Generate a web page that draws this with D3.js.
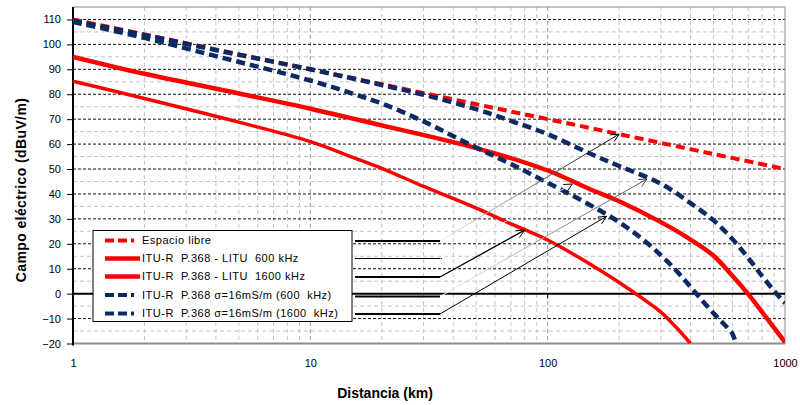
<!DOCTYPE html>
<html><head><meta charset="utf-8">
<script src="https://cdn.jsdelivr.net/npm/d3@7"></script>
<style>body{margin:0;background:#fff}svg{display:block;font-family:"Liberation Sans",Arial,sans-serif}</style>
</head><body><svg id="c" width="800" height="405"></svg>
<script>
// ---------- data ----------
const xTicks = [1, 10, 100, 1000];
const yTicks = [-20, -10, 0, 10, 20, 30, 40, 50, 60, 70, 80, 90, 100, 110];

const freeDist = [1, 2, 5, 10, 20, 50, 100, 200, 500, 1000];
const freeVals = [110, 104, 96, 90, 84, 76, 70, 64, 56, 50];

const litu600Dist = [1, 2, 5, 10, 20, 50, 100, 150, 200, 300, 400, 500, 600, 700, 800, 900, 1000];
const litu600Vals = [95, 88.2, 80.3, 74.2, 67.5, 58.4, 49.4, 42, 37.1, 28.7, 21.7, 15.2, 7.2, -0.2, -7.3, -13.7, -19.5];

const litu1600Dist = [1, 2, 5, 10, 15, 20, 30, 50, 70, 100, 150, 200, 250, 300, 350, 400];
const litu1600Vals = [85.2, 78.3, 68.8, 61, 54.8, 50.3, 43, 34.3, 28, 21.5, 12, 4.5, -1.8, -7.4, -13.8, -20];

const sig600Dist = [1, 2, 4, 10, 20, 30, 50, 70, 100, 150, 200, 300, 400, 500, 600, 700, 800, 900, 1000];
const sig600Vals = [109.5, 103.8, 97.7, 90, 83.7, 79.8, 74, 69.3, 64, 56.3, 51.2, 44.1, 36.3, 29.4, 21.9, 14.3, 7.1, 1.1, -3.8];

const sig1600Dist = [1, 2, 4, 10, 15, 20, 30, 50, 70, 100, 150, 200, 250, 300, 350, 400, 450, 500, 550, 600, 620];
const sig1600Vals = [109, 102.6, 95.3, 85.5, 80.3, 76.3, 69.1, 58.6, 52, 44.5, 35.7, 28.7, 22, 15.4, 9, 2.7, -3, -7.9, -12, -16, -20];

const seriesNames = [
  "Espacio libre",
  "ITU-R  P.368 - LITU  600 kHz",
  "ITU-R  P.368 - LITU  1600 kHz",
  "ITU-R  P.368 \u03c3=16mS/m (600  kHz)",
  "ITU-R  P.368 \u03c3=16mS/m (1600  kHz)"
];

// annotation arrow targets (distance, value) for each legend row
const annoDist = [200, 127, 80, 262, 177];
const annoVals = [64, 44, 25.5, 46, 31];

// ---------- layout ----------
const svg = d3.select("#c");
const m = {l: 73, r: 785, t: 7, b: 343.5};
const x = d3.scaleLog().domain([1, 1000]).range([m.l, m.r]);
const y = d3.scaleLinear().domain([-20, 115]).range([m.b, m.t]);

const RED = "#ff0000", NAVY = "#0b2a64";
const series = [
  {name: seriesNames[0], d: freeDist, v: freeVals, c: RED, w: 4, dash: "9,5"},
  {name: seriesNames[1], d: litu600Dist, v: litu600Vals, c: RED, w: 4.5, dash: null},
  {name: seriesNames[2], d: litu1600Dist, v: litu1600Vals, c: RED, w: 3.5, dash: null},
  {name: seriesNames[3], d: sig600Dist, v: sig600Vals, c: NAVY, w: 4.5, dash: "9,5"},
  {name: seriesNames[4], d: sig1600Dist, v: sig1600Vals, c: NAVY, w: 4.5, dash: "9,5"}
];

const defs = svg.append("defs");
defs.append("clipPath").attr("id", "plot").append("rect")
  .attr("x", m.l).attr("y", m.t).attr("width", m.r - m.l).attr("height", m.b - m.t);

// ---------- grid ----------
const grid = svg.append("g");
x.ticks().filter(t => t > 1 && t < 1000).forEach(t => {
  const isDec = [10, 100].includes(t);
  grid.append("line").attr("x1", x(t)).attr("x2", x(t)).attr("y1", m.t).attr("y2", m.b)
    .attr("stroke", isDec ? "#9a9a9a" : "#c4c4c4").attr("stroke-width", 1).attr("stroke-dasharray", "4,3");
});
d3.range(-15, 115, 5).forEach(v => {
  if (v % 10 !== 0) {
    grid.append("line").attr("x1", m.l).attr("x2", m.r).attr("y1", y(v)).attr("y2", y(v))
      .attr("stroke", "#c4c4c4").attr("stroke-dasharray", "4,3");
  } else if (v !== 0) {
    grid.append("line").attr("x1", m.l).attr("x2", m.r).attr("y1", y(v)).attr("y2", y(v))
      .attr("stroke", "#111").attr("stroke-dasharray", "3,2");
  }
});
// border
svg.append("rect").attr("x", m.l).attr("y", m.t).attr("width", m.r - m.l).attr("height", m.b - m.t)
  .attr("fill", "none").attr("stroke", "#8c8c8c").attr("stroke-width", 1);
svg.append("line").attr("x1", m.l).attr("x2", m.r).attr("y1", m.b).attr("y2", m.b)
  .attr("stroke", "#8c8c8c").attr("stroke-width", 2);
// zero line
svg.append("line").attr("x1", m.l).attr("x2", m.r).attr("y1", y(0)).attr("y2", y(0))
  .attr("stroke", "#000").attr("stroke-width", 2);
[10, 100].forEach(t => svg.append("line").attr("x1", x(t)).attr("x2", x(t))
  .attr("y1", y(0)).attr("y2", y(0) + 5).attr("stroke", "#000"));

// ---------- axes ----------
const ya = svg.append("g").attr("transform", `translate(${m.l},0)`)
  .call(d3.axisLeft(y).tickValues(yTicks).tickSize(6).tickSizeOuter(0).tickPadding(6));
ya.select(".domain").attr("stroke", "#000").attr("stroke-width", 2)
  .attr("d", `M0,${m.t}V${m.b + 2}`);
ya.selectAll(".tick line").attr("stroke", "#000");
ya.selectAll("text").attr("font-size", 11).attr("fill", "#000")
  .attr("font-family", "Liberation Sans, Arial, sans-serif");

const xa = svg.append("g").attr("transform", `translate(0,${m.b})`)
  .call(d3.axisBottom(x).tickValues(xTicks).tickFormat(d3.format("d")).tickSize(0).tickPadding(16));
xa.select(".domain").remove();
xa.selectAll("text").attr("font-size", 11).attr("fill", "#000")
  .attr("font-family", "Liberation Sans, Arial, sans-serif");

svg.append("text").attr("x", 385).attr("y", 398).attr("text-anchor", "middle")
  .attr("font-size", 14).attr("font-weight", "bold").text("Distancia (km)");
svg.append("text").attr("transform", "translate(26,190) rotate(-90)").attr("text-anchor", "middle")
  .attr("font-size", 14).attr("font-weight", "bold").attr("letter-spacing", 0.4)
  .text("Campo el\u00e9ctrico (dBuV/m)");

// ---------- curves ----------
const line = d3.line().x(p => x(p[0])).y(p => y(p[1])).curve(d3.curveCatmullRom.alpha(0.5));
const curves = svg.append("g").attr("clip-path", "url(#plot)");
[1, 2, 0, 3, 4].forEach(i => {
  const s = series[i];
  curves.append("path").datum(s.d.map((d, k) => [d, s.v[k]]))
    .attr("d", line).attr("fill", "none").attr("stroke", s.c).attr("stroke-width", s.w)
    .attr("stroke-dasharray", s.dash);
});

// ---------- legend ----------
const L = {x: 93, y: 230.5, w: 259, h: 91};
const rowY = [240.5, 258.5, 276.5, 295, 313.5];
const lg = svg.append("g");
lg.append("rect").attr("x", L.x).attr("y", L.y).attr("width", L.w).attr("height", L.h)
  .attr("fill", "#fff").attr("stroke", "#000").attr("stroke-width", 1);
series.forEach((s, i) => {
  lg.append("line").attr("x1", 105).attr("x2", 140).attr("y1", rowY[i]).attr("y2", rowY[i])
    .attr("stroke", s.c).attr("stroke-width", s.dash ? 4 : 4.5).attr("stroke-dasharray", s.dash ? "9,4,9,4,3" : null);
  lg.append("text").attr("x", 142).attr("y", rowY[i]).attr("dy", "0.36em")
    .attr("font-size", 11).attr("letter-spacing", 0.5).style("white-space", "pre").attr("fill", "#000")
    .text(s.name);
});

// ---------- annotation leader lines & arrows ----------
const annoY = [241, 258.5, 277, 296.5, 314];
const annoStyle = [
  {w: 2, from: "#f2f2f2", to: "#000", lw: 1},
  {w: 1, from: "#ffffff", to: "#dddddd", lw: 1},
  {w: 2, from: "#000", to: "#000", lw: 1.3},
  {w: 2, from: "#f2f2f2", to: "#555", lw: 1},
  {w: 2, from: "#000", to: "#000", lw: 1}
];
const an = svg.append("g");
annoY.forEach((ry, i) => {
  const st = annoStyle[i];
  an.append("line").attr("x1", 355).attr("x2", i === 1 ? 442 : 440).attr("y1", ry).attr("y2", ry)
    .attr("stroke", "#000").attr("stroke-width", st.w);
  const x1 = 440, y1 = ry, x2 = x(annoDist[i]), y2 = y(annoVals[i]);
  const gid = "g" + i;
  const g = defs.append("linearGradient").attr("id", gid).attr("gradientUnits", "userSpaceOnUse")
    .attr("x1", x1).attr("y1", y1).attr("x2", x2).attr("y2", y2);
  g.append("stop").attr("offset", 0).attr("stop-color", st.from);
  g.append("stop").attr("offset", 1).attr("stop-color", st.to);
  an.append("line").attr("x1", x1).attr("y1", y1).attr("x2", x2).attr("y2", y2)
    .attr("stroke", `url(#${gid})`).attr("stroke-width", st.lw);
  const ang = Math.atan2(y2 - y1, x2 - x1), len = 9, spread = 0.45;
  const hp = [ang + Math.PI - spread, ang + Math.PI + spread]
    .map(a => [x2 + len * Math.cos(a), y2 + len * Math.sin(a)]);
  an.append("path").attr("d", `M${hp[0]}L${x2},${y2}L${hp[1]}`)
    .attr("fill", "none").attr("stroke", i === 3 ? "#444" : "#000").attr("stroke-width", 1);
});
</script></body></html>
